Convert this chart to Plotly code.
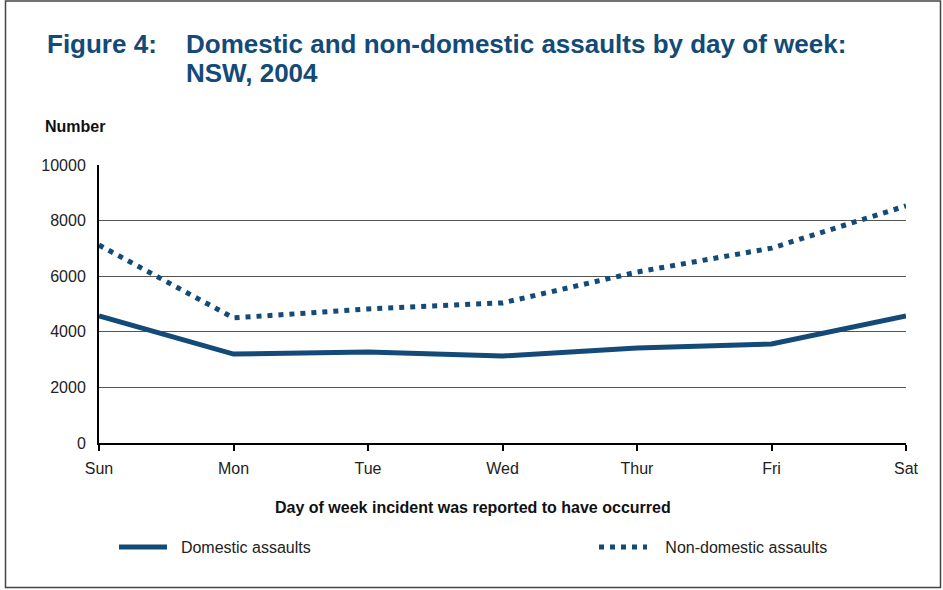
import plotly.graph_objects as go

days = ["Sun", "Mon", "Tue", "Wed", "Thur", "Fri", "Sat"]
domestic = [4570, 3200, 3270, 3130, 3420, 3560, 4570]
non_domestic = [7120, 4500, 4820, 5040, 6150, 7010, 8530]
y_ticks = [0, 2000, 4000, 6000, 8000, 10000]

BLUE = "#134a78"
FONT = "Liberation Sans, Arial, sans-serif"

W, H = 943, 590
L, R, T, B = 99, 37, 165, 147
PW, PH = W - L - R, H - T - B

def px_x(px):
    return (px - L) / PW

def px_y(py):
    return 1 - (py - T) / PH

fig = go.Figure()
fig.add_trace(go.Scatter(x=list(range(len(days))), y=domestic, mode="lines",
                         name="\u00a0\u00a0Domestic assaults", line=dict(color=BLUE, width=5),
                         legend="legend"))
fig.add_trace(go.Scatter(x=list(range(len(days))), y=non_domestic, mode="lines",
                         name="\u00a0\u00a0\u00a0Non-domestic assaults",
                         line=dict(color=BLUE, width=5, dash="5px,6px"),
                         legend="legend2"))

fig.update_layout(
    width=W, height=H,
    margin=dict(l=L, r=R, t=T, b=B),
    paper_bgcolor="white", plot_bgcolor="white",
    font=dict(family=FONT, size=16, color="#222222"),
    showlegend=True,
    xaxis=dict(range=[0, 6], tickmode="array", tickvals=list(range(len(days))),
               ticktext=days, showgrid=False, zeroline=False,
               showline=True, linecolor="black", linewidth=2,
               ticks="outside", ticklen=6, tickwidth=2, tickcolor="black",
               ticklabelstandoff=4,
               tickfont=dict(size=16, color="#222222")),
    yaxis=dict(range=[0, 10000], tickmode="array", tickvals=y_ticks,
               ticktext=[str(v) for v in y_ticks],
               showgrid=True, gridcolor="#555555", gridwidth=1,
               zeroline=False, showline=True, linecolor="black", linewidth=2,
               ticks="", ticklabelstandoff=8,
               tickfont=dict(size=16, color="#222222")),
    legend=dict(orientation="h", x=px_x(114), y=px_y(530), xanchor="left", yanchor="top",
                bgcolor="rgba(0,0,0,0)", font=dict(size=16, color="#222222"),
                itemwidth=48),
    legend2=dict(orientation="h", x=px_x(594), y=px_y(530), xanchor="left", yanchor="top",
                 bgcolor="rgba(0,0,0,0)", font=dict(size=16, color="#222222"),
                 itemwidth=48),
)

fig.add_annotation(text="<b>Figure 4:</b>", xref="paper", yref="paper",
                   x=px_x(45), y=px_y(44), xanchor="left", yanchor="middle",
                   showarrow=False, font=dict(size=26, color=BLUE, family=FONT))
fig.add_annotation(text="<b>Domestic and non-domestic assaults by day of week:</b>",
                   xref="paper", yref="paper", align="left",
                   x=px_x(184), y=px_y(44), xanchor="left", yanchor="middle",
                   showarrow=False, font=dict(size=26, color=BLUE, family=FONT))
fig.add_annotation(text="<b>NSW, 2004</b>",
                   xref="paper", yref="paper", align="left",
                   x=px_x(184), y=px_y(73), xanchor="left", yanchor="middle",
                   showarrow=False, font=dict(size=26, color=BLUE, family=FONT))
fig.add_annotation(text="<b>Number</b>", xref="paper", yref="paper",
                   x=px_x(43), y=px_y(127), xanchor="left", yanchor="middle",
                   showarrow=False, font=dict(size=16, color="#111111", family=FONT))
fig.add_annotation(text="<b>Day of week incident was reported to have occurred</b>",
                   xref="paper", yref="paper",
                   x=px_x(473), y=px_y(507), xanchor="center", yanchor="middle",
                   showarrow=False, font=dict(size=16, color="#111111", family=FONT))

fig.add_shape(type="rect", xref="paper", yref="paper",
              x0=px_x(5.5), x1=px_x(940.5), y0=px_y(587.5), y1=px_y(1),
              line=dict(color="#444444", width=1.5), layer="below")

fig.write_html("out.html", config={"displayModeBar": False},
               post_script="document.body.style.margin='0px';document.body.style.overflow='hidden';")
